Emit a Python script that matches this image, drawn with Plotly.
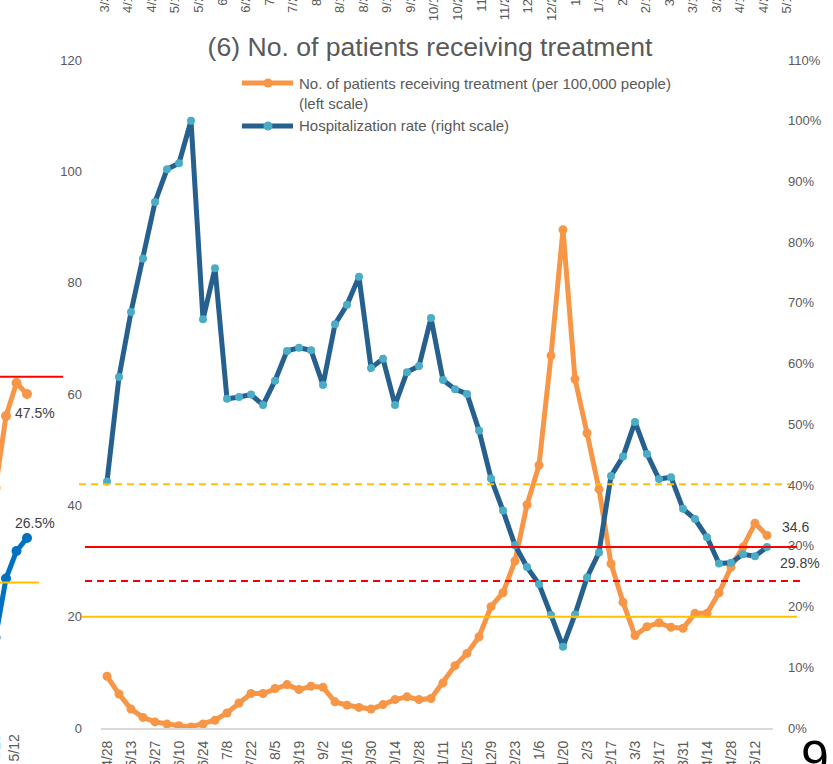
import plotly.graph_objects as go

# weekly data points (labels shown every 2 weeks)
weeks = ["4/28", "5/5", "5/13", "5/20", "5/27", "6/3", "6/10", "6/17", "6/24", "7/1",
         "7/8", "7/15", "7/22", "7/29", "8/5", "8/12", "8/19", "8/26", "9/2", "9/9",
         "9/16", "9/23", "9/30", "10/7", "10/14", "10/21", "10/28", "11/4", "11/11", "11/18",
         "11/25", "12/2", "12/9", "12/16", "12/23", "12/30", "1/6", "1/13", "1/20", "1/27",
         "2/3", "2/10", "2/17", "2/24", "3/3", "3/10", "3/17", "3/24", "3/31", "4/7",
         "4/14", "4/21", "4/28", "5/5", "5/12", "5/19"]

patients = [9.3, 6.1, 3.4, 1.9, 1.1, 0.7, 0.4, 0.2, 0.7, 1.4,
            2.7, 4.5, 6.2, 6.2, 7.1, 7.8, 6.9, 7.5, 7.3, 4.7,
            4.1, 3.7, 3.4, 4.2, 5.1, 5.6, 5.1, 5.3, 8.1, 11.2,
            13.4, 16.4, 21.8, 24.3, 30.0, 40.1, 47.2, 66.9, 89.5, 62.7,
            53.0, 42.9, 29.5, 22.6, 16.6, 18.2, 18.9, 18.1, 17.9, 20.6,
            20.6, 24.3, 28.9, 32.5, 36.8, 34.6]

hosp_rate = [40.6, 57.8, 68.5, 77.3, 86.6, 92.0, 93.0, 100.0, 67.3, 75.7,
             54.2, 54.5, 54.9, 53.2, 57.2, 62.1, 62.6, 62.2, 56.5, 66.5,
             69.7, 74.3, 59.3, 60.8, 53.2, 58.6, 59.6, 67.5, 57.3, 55.8,
             55.0, 49.0, 41.1, 35.8, 30.1, 26.5, 23.7, 18.6, 13.4, 18.7,
             24.8, 28.9, 41.5, 44.7, 50.4, 45.1, 41.0, 41.3, 36.1, 34.4,
             31.4, 27.1, 27.2, 28.6, 28.3, 29.8]

legend_names = ["No. of patients receiving treatment (per 100,000 people)<br>(left scale)",
                "Hospitalization rate (right scale)"]

# horizontal guide levels (left scale)
ref_levels = [43.8, 32.5, 26.4, 20.0]
ref_colors = ["#FFC000", "#FF0000", "#FF0000", "#FFC000"]
ref_dash = ["7px,5px", "solid", "7px,5px", "solid"]

# neighbouring chart (cut off at left edge)
left_x = [-1, 0, 1, 2]
left_orange = [33.8, 44.3, 49.1, 47.5]
left_blue = [12.0, 20.6, 24.6, 26.5]
left_levels = [50, 20]
left_ticks = ["4/28", "5/12"]

# neighbouring chart above (its date labels hang into view)
top_labels = ["3/31", "4/14", "4/28", "5/12", "5/26", "6/9", "6/23", "7/7", "7/21", "8/4",
              "8/18", "8/31", "9/14", "9/28", "10/12", "10/26", "11/9", "11/23", "12/7", "12/21",
              "1/4", "1/18", "2/1", "2/15", "3/1", "3/15", "3/29", "4/12", "4/26", "5/10"]

ORANGE = "#F79646"
BLUE = "#26608F"
BLUE_MK = "#4BACC6"
GREY = "#595959"
DARK = "#404040"
FONT = "Liberation Sans, Arial, sans-serif"
W, H = 833, 764


def px(X):
    return X / W


def py(Y):
    return 1 - Y / H


x = list(range(len(weeks)))

fig = go.Figure()

fig.add_trace(go.Scatter(
    x=x, y=patients, mode="lines+markers", yaxis="y", showlegend=False,
    line=dict(color=ORANGE, width=5), marker=dict(color=ORANGE, size=9),
))
fig.add_trace(go.Scatter(
    x=x, y=hosp_rate, mode="lines+markers", yaxis="y2", showlegend=False,
    line=dict(color=BLUE, width=5), marker=dict(color=BLUE_MK, size=8),
))

# fragment of the chart on the left
fig.add_trace(go.Scatter(
    x=left_x, y=left_orange, xaxis="x3", yaxis="y3", mode="lines+markers",
    showlegend=False, line=dict(color=ORANGE, width=5), marker=dict(color=ORANGE, size=10),
))
fig.add_trace(go.Scatter(
    x=left_x, y=left_blue, xaxis="x3", yaxis="y3", mode="lines+markers",
    showlegend=False, line=dict(color="#0070C0", width=5), marker=dict(color="#0070C0", size=10),
))

shapes = []
x_ext = [(79, 790), (85, 797), (85, 800), (82, 797)]
for lvl, col, dash, (x0, x1) in zip(ref_levels, ref_colors, ref_dash, x_ext):
    shapes.append(dict(type="line", xref="paper", yref="y", x0=px(x0), x1=px(x1), y0=lvl, y1=lvl,
                       line=dict(color=col, width=2, dash=dash), layer="above"))
for lvl, col, x1 in zip(left_levels, ["#FF0000", "#FFC000"], [63, 39]):
    shapes.append(dict(type="line", xref="paper", yref="y3", x0=0, x1=px(x1), y0=lvl, y1=lvl,
                       line=dict(color=col, width=2), layer="above"))

# hand-made legend (long line symbols with a marker in the middle)
leg_y = [83, 126]
for yy, lc, mc in zip(leg_y, [ORANGE, BLUE], [ORANGE, BLUE_MK]):
    shapes.append(dict(type="line", xref="paper", yref="paper", x0=px(242), x1=px(293),
                       y0=py(yy), y1=py(yy), line=dict(color=lc, width=5)))
    shapes.append(dict(type="circle", xref="paper", yref="paper", xsizemode="pixel",
                       ysizemode="pixel", xanchor=px(268), yanchor=py(yy),
                       x0=-4.5, x1=4.5, y0=-4.5, y1=4.5, fillcolor=mc, line=dict(width=0)))

annotations = [
    dict(x=px(297), y=py(73), xref="paper", yref="paper", text=legend_names[0],
         showarrow=False, xanchor="left", yanchor="top", align="left",
         font=dict(size=15, color=GREY, family=FONT)),
    dict(x=px(297), y=py(126), xref="paper", yref="paper", text=legend_names[1],
         showarrow=False, xanchor="left", yanchor="middle", align="left",
         font=dict(size=15, color=GREY, family=FONT)),
    dict(x=x[-1], y=patients[-1], xref="x", yref="y", text=f"{patients[-1]}",
         showarrow=False, xanchor="left", xshift=13, yshift=8,
         font=dict(size=14, color=DARK, family=FONT)),
    dict(x=x[-1], y=hosp_rate[-1], xref="x", yref="y2", text=f"{hosp_rate[-1]}%",
         showarrow=False, xanchor="left", xshift=11, yshift=-16,
         font=dict(size=14, color=DARK, family=FONT)),
    dict(x=left_x[-1], y=left_orange[-1], xref="x3", yref="y3", text=f"{left_orange[-1]}%",
         showarrow=False, xanchor="center", xshift=8, yshift=-19,
         font=dict(size=14, color=DARK, family=FONT)),
    dict(x=left_x[-1], y=left_blue[-1], xref="x3", yref="y3", text=f"{left_blue[-1]}%",
         showarrow=False, xanchor="center", xshift=8, yshift=15,
         font=dict(size=14, color=DARK, family=FONT)),
    dict(x=px(815), y=py(729), xref="paper", yref="paper", text="9", showarrow=False,
         xanchor="center", yanchor="top", font=dict(size=50, color="#000000", family=FONT)),
]
for lab, X in zip(left_ticks, [-6, 13]):
    annotations.append(dict(
        x=px(X), y=py(733), xref="paper", yref="paper", text=lab, showarrow=False,
        textangle=-90, xanchor="center", yanchor="top",
        font=dict(size=14, color=GREY, family=FONT)))
for i, lab in enumerate(top_labels):
    annotations.append(dict(
        x=px(104 + i * 23.55), y=py(-14), xref="paper", yref="paper", text=lab,
        showarrow=False, textangle=-90, xanchor="center", yanchor="top",
        font=dict(size=13, color=GREY, family=FONT)))

fig.update_layout(
    width=W, height=H,
    margin=dict(l=0, r=0, t=0, b=0),
    paper_bgcolor="white", plot_bgcolor="white",
    font=dict(family=FONT, color=GREY),
    showlegend=False,
    title=dict(text="(6) No. of patients receiving treatment", x=px(430), xref="paper",
               y=py(47), yref="paper", xanchor="center", yanchor="middle",
               font=dict(size=26.6, color=GREY, family=FONT)),
    xaxis=dict(domain=[px(101), px(773)], range=[-0.5, len(weeks) - 0.5],
               tickvals=x[::2], ticktext=weeks[::2],
               tickangle=-90, showgrid=False, zeroline=False, showline=True,
               linecolor="#D9D9D9", linewidth=2, ticks="", automargin=False,
               ticklabelstandoff=5, tickfont=dict(size=14, color=GREY)),
    yaxis=dict(domain=[py(728), py(60)], range=[0, 120], dtick=20, showgrid=False,
               zeroline=False, ticks="", ticklabelstandoff=18, automargin=False,
               tickfont=dict(size=13, color=GREY)),
    yaxis2=dict(range=[0, 110], dtick=10, ticksuffix="%", overlaying="y", side="right",
                showgrid=False, zeroline=False, ticks="", ticklabelstandoff=14,
                automargin=False, tickfont=dict(size=13, color=GREY)),
    xaxis3=dict(domain=[0, px(40)], anchor="y3", range=[-0.571, 3.238], visible=False),
    yaxis3=dict(domain=[py(728), py(60)], anchor="x3", range=[-1.2, 96.2], visible=False),
    shapes=shapes,
    annotations=annotations,
)

fig.write_html("out.html", config={"displayModeBar": False},
               post_script="document.body.style.margin='0px';")
